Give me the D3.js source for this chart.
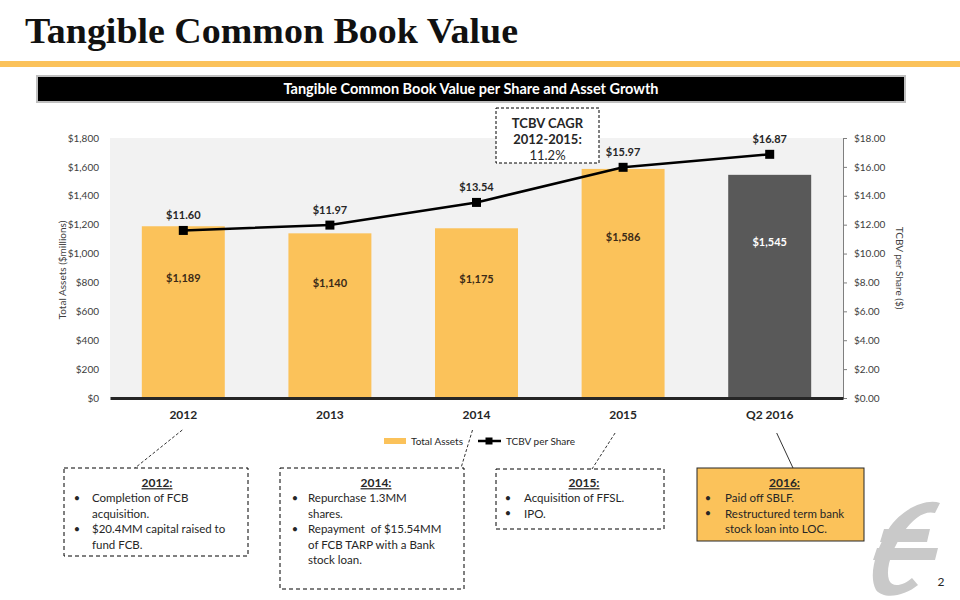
<!DOCTYPE html>
<html><head><meta charset="utf-8">
<script src="https://cdn.jsdelivr.net/npm/d3@7/dist/d3.min.js"></script>
<style>
html,body{margin:0;padding:0;background:#fff;}
svg{display:block;}
text{font-family:Lato,"Open Sans",sans-serif;}
</style></head>
<body><svg id="c" width="960" height="600"></svg>
<script>
// ---- data ----
const categories = ["2012", "2013", "2014", "2015", "Q2 2016"];
const totalAssets = [1189, 1140, 1175, 1586, 1545];
const tcbvPerShare = [11.60, 11.97, 13.54, 15.97, 16.87];
const leftTicks = [0, 200, 400, 600, 800, 1000, 1200, 1400, 1600, 1800];
const rightTicks = [0, 2, 4, 6, 8, 10, 12, 14, 16, 18];
const seriesNames = ["Total Assets", "TCBV per Share"];
const cagrLines = ["TCBV CAGR", "2012-2015:", "11.2%"];
const noteTitles = ["2012:", "2014:", "2015:", "2016:"];
const noteBullets = [
  [["Completion of FCB", "acquisition."], ["$20.4MM capital raised to", "fund FCB."]],
  [["Repurchase 1.3MM", "shares."], ["Repayment  of $15.54MM", "of FCB TARP with a Bank", "stock loan."]],
  [["Acquisition of FFSL."], ["IPO."]],
  [["Paid off SBLF."], ["Restructured term bank", "stock loan into LOC."]]
];
const noteCategory = [0, 2, 3, 4];

// ---- layout ----
const svg = d3.select("#c");
const ORANGE = "#fbc25a", DARK = "#595959", TXT = "#262626", AX = "#404040";
const plot = {x0: 110, x1: 843, y0: 138, y1: 398};

// title
svg.append("text").attr("x", 25).attr("y", 43)
  .attr("textLength", 493).attr("lengthAdjust", "spacingAndGlyphs")
  .style("font-family", "'Liberation Serif', serif").style("font-weight", "bold")
  .style("font-size", "35px").attr("fill", "#111").text("Tangible Common Book Value");
svg.append("rect").attr("x", 0).attr("y", 61).attr("width", 960).attr("height", 6).attr("fill", ORANGE);

// header bar
svg.append("rect").attr("x", 37).attr("y", 76).attr("width", 868).attr("height", 26)
  .attr("fill", "#000").attr("stroke", "#bfbfbf").attr("stroke-width", 2);
svg.append("text").attr("x", 471).attr("y", 89).attr("dy", "0.35em").attr("text-anchor", "middle")
  .attr("fill", "#fff").style("font-weight", "bold").style("font-size", "14.5px")
  .text("Tangible Common Book Value per Share and Asset Growth");

// scales
const x = d3.scaleBand().domain(categories).range([plot.x0, plot.x1]).paddingInner(0.434).paddingOuter(0.217);
const yL = d3.scaleLinear().domain([0, 1800]).range([plot.y1, plot.y0]);
const yR = d3.scaleLinear().domain([0, 18]).range([plot.y1, plot.y0]);
const cx = c => x(c) + x.bandwidth() / 2;

// plot bg
svg.append("rect").attr("x", plot.x0).attr("y", plot.y0).attr("width", plot.x1 - plot.x0)
  .attr("height", plot.y1 - plot.y0).attr("fill", "#f2f2f2");

// bars
const bars = svg.append("g");
bars.selectAll("rect").data(totalAssets).join("rect")
  .attr("x", (d, i) => x(categories[i])).attr("width", x.bandwidth())
  .attr("y", d => yL(d)).attr("height", d => yL(0) - yL(d))
  .attr("fill", (d, i) => i === categories.length - 1 ? DARK : ORANGE);
bars.selectAll("text").data(totalAssets).join("text")
  .attr("x", (d, i) => cx(categories[i]))
  .attr("y", d => yL(d) + 0.3 * (yL(0) - yL(d))).attr("dy", "0.35em")
  .attr("text-anchor", "middle").style("font-weight", "bold").style("font-size", "11px")
  .attr("fill", (d, i) => i === categories.length - 1 ? "#fff" : "#3b2a17")
  .text(d => "$" + d3.format(",")(d));

// left axis
const gL = svg.append("g").attr("transform", `translate(${plot.x0 - 5},0)`)
  .call(d3.axisLeft(yL).tickValues(leftTicks).tickSize(0).tickPadding(6).tickFormat(d => "$" + d3.format(",")(d)));
gL.select(".domain").remove();
gL.selectAll("text").attr("fill", AX).style("font-size", "10px").style("font-family", "Lato,sans-serif");

// right axis
const gR = svg.append("g").attr("transform", `translate(${plot.x1},0)`)
  .call(d3.axisRight(yR).tickValues(rightTicks).tickSize(4).tickPadding(7).tickFormat(d => "$" + d3.format(".2f")(d)));
gR.select(".domain").attr("stroke", "#7f7f7f");
gR.selectAll(".tick line").attr("stroke", "#7f7f7f");
gR.selectAll("text").attr("fill", AX).style("font-size", "10px").style("font-family", "Lato,sans-serif");

// bottom axis
const gB = svg.append("g").attr("transform", `translate(0,${plot.y1})`)
  .call(d3.axisBottom(x).tickSize(0).tickPadding(12));
gB.select(".domain").attr("stroke", "#262626").attr("stroke-width", 3);
gB.selectAll("text").attr("fill", TXT).style("font-weight", "bold").style("font-size", "12px").style("font-family", "Lato,sans-serif");

// axis titles
svg.append("text").attr("transform", "translate(62,270) rotate(-90)").attr("text-anchor", "middle")
  .attr("dy", "0.35em").attr("fill", AX).style("font-size", "10px").text("Total Assets ($millions)");
svg.append("text").attr("transform", "translate(899,268) rotate(90)").attr("text-anchor", "middle")
  .attr("dy", "0.35em").attr("fill", AX).style("font-size", "10px").text("TCBV per Share ($)");

// line
const line = d3.line().x((d, i) => cx(categories[i])).y(d => yR(d));
svg.append("path").datum(tcbvPerShare).attr("d", line).attr("fill", "none")
  .attr("stroke", "#000").attr("stroke-width", 2.5);
svg.append("g").selectAll("rect").data(tcbvPerShare).join("rect")
  .attr("x", (d, i) => cx(categories[i]) - 4.5).attr("y", d => yR(d) - 4.5)
  .attr("width", 9).attr("height", 9).attr("fill", "#000");
svg.append("g").selectAll("text").data(tcbvPerShare).join("text")
  .attr("x", (d, i) => cx(categories[i])).attr("y", d => yR(d) - 15).attr("dy", "0.35em")
  .attr("text-anchor", "middle").style("font-weight", "bold").style("font-size", "11px").attr("fill", TXT)
  .text(d => "$" + d3.format(".2f")(d));

// CAGR box
svg.append("rect").attr("x", 496).attr("y", 108).attr("width", 103).attr("height", 55)
  .attr("fill", "#fff").attr("stroke", "#000").attr("stroke-dasharray", "3,2");
svg.append("g").selectAll("text").data(cagrLines).join("text")
  .attr("x", 547.5).attr("y", (d, i) => 123 + i * 16).attr("dy", "0.35em").attr("text-anchor", "middle")
  .style("font-size", "13px").style("font-weight", (d, i) => i < 2 ? "bold" : "normal")
  .attr("fill", TXT).text(d => d);

// legend
const lg = svg.append("g");
lg.append("rect").attr("x", 384).attr("y", 438).attr("width", 22).attr("height", 6).attr("fill", ORANGE);
lg.append("text").attr("x", 411).attr("y", 441).attr("dy", "0.35em").style("font-size", "10px").attr("fill", TXT).text(seriesNames[0]);
lg.append("line").attr("x1", 478).attr("x2", 501).attr("y1", 441).attr("y2", 441).attr("stroke", "#000").attr("stroke-width", 2.5);
lg.append("rect").attr("x", 485.5).attr("y", 437.5).attr("width", 7).attr("height", 7).attr("fill", "#000");
lg.append("text").attr("x", 506).attr("y", 441).attr("dy", "0.35em").style("font-size", "10px").attr("fill", TXT).text(seriesNames[1]);

// annotation boxes
const boxes = [
  {x: 64, y: 468, w: 184, h: 88, fill: "#fff", dash: "4,3", bx: 77, tx: 92, top: [-1, 430], bot: [135, 468]},
  {x: 280, y: 468, w: 184, h: 121, fill: "#fff", dash: "4,3", bx: 295, tx: 308, top: [-4, 430], bot: [461, 468]},
  {x: 496, y: 469, w: 168, h: 60, fill: "#fff", dash: "4,3", bx: 508, tx: 524, top: [-8, 433], bot: [592, 469]},
  {x: 697, y: 468, w: 167, h: 73, fill: ORANGE, dash: null, bx: 708, tx: 725, top: [7, 433], bot: [793, 468]}
];
boxes.forEach((b, k) => {
  const g = svg.append("g");
  const c = cx(categories[noteCategory[k]]);
  g.append("line").attr("x1", c + b.top[0]).attr("y1", b.top[1]).attr("x2", b.bot[0]).attr("y2", b.bot[1])
    .attr("stroke", "#333").attr("stroke-dasharray", b.dash ? "3,2" : null).attr("stroke-width", 1);
  g.append("rect").attr("x", b.x).attr("y", b.y).attr("width", b.w).attr("height", b.h)
    .attr("fill", b.fill).attr("stroke", b.dash ? "#000" : "#262626").attr("stroke-width", 1)
    .attr("stroke-dasharray", b.dash);
  g.append("text").attr("x", b.x + b.w / 2 + (k === 0 ? 1 : 4)).attr("y", 483).attr("dy", "0.35em")
    .attr("text-anchor", "middle").style("font-weight", "bold").style("font-size", "12px")
    .style("text-decoration", "underline").attr("fill", TXT).text(noteTitles[k]);
  let ln = 0;
  noteBullets[k].forEach(bl => {
    g.append("text").attr("x", b.bx).attr("y", 498 + ln * 15.5).attr("dy", "0.35em")
      .attr("text-anchor", "middle").style("font-size", "11px").attr("fill", TXT).text("•");
    bl.forEach(t => {
      g.append("text").attr("x", b.tx).attr("y", 498 + ln * 15.5).attr("dy", "0.35em")
        .style("font-size", "11.5px").attr("fill", TXT).style("white-space", "pre").text(t);
      ln++;
    });
  });
});

// logo (decorative)
const logo = svg.append("g").attr("fill", "#c9c9c9");
logo.append("path").attr("d",
  "M940,503 C925,498 900,510 888,530 C876,550 868,575 876,590 C884,600 905,596 918,585 L912,578 C903,586 892,588 889,580 C885,568 893,548 903,533 C913,518 925,510 935,513 Z");
logo.append("path").attr("d", "M884,529 L930,529 L927,542 L880,542 Z");
logo.append("path").attr("d", "M877,548 L938,548 L935,560 L873,560 Z");
svg.append("text").attr("x", 941).attr("y", 582).attr("dy", "0.35em").attr("text-anchor", "middle")
  .style("font-size", "12px").attr("fill", TXT).text("2");
</script></body></html>
